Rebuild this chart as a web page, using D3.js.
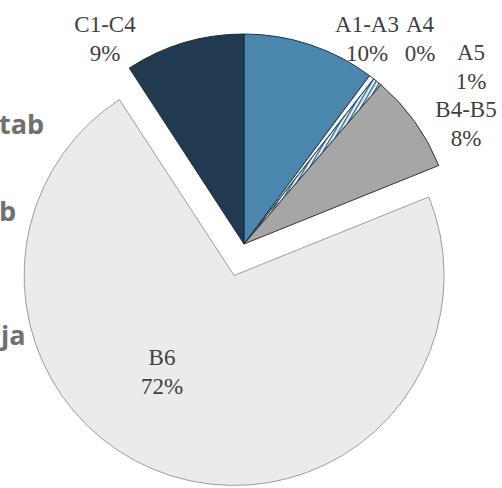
<!DOCTYPE html>
<html>
<head>
<meta charset="utf-8">
<script src="https://cdn.jsdelivr.net/npm/d3@7"></script>
<style>
  body { margin: 0; background: #fff; }
  svg { display: block; }
  .lbl { font-family: "Liberation Serif", "DejaVu Serif", serif; }
  .side { font-family: "Open Sans", "DejaVu Sans", sans-serif; }
</style>
</head>
<body>
<div id="chart"></div>
<script>
//Data
let categories = ["A1-A3", "A4", "A5", "B4-B5", "B6", "C1-C4"];
let shares = [10.2, 0.4, 0.7, 7.6, 71.9, 9.2];
let shareLabels = ["10%", "0%", "1%", "8%", "72%", "9%"];
let colors = ["#4b86ae", "#eef6fb", "url(#hatch)", "#a6a6a6", "#ebebeb", "#213a4f"];
let strokes = ["#1f3344", "#1f3344", "#1f3344", "#2b3640", "#9d9d9d", "#1b2c3a"];
let exploded = ["B6"];

//Where each label sits (centre x, first baseline)
let labelPos = {
	"A1-A3": [367, 32], "A4": [420, 32], "A5": [471, 60],
	"B4-B5": [466, 117], "B6": [162, 365], "C1-C4": [105, 32]
};

//Cut-off text on the left border
let sideWords = [["tab", -1, 134], ["b", -1, 221], ["ja", 1, 345]];

//Dimensions
let width = 502;
let height = 488;
let cx = 244, cy = 244;
let radius = 210;
let explode = 33;
let lineGap = 28.5;

let svg = d3.select("#chart").append("svg")
	.attr("width", width)
	.attr("height", height);

//Hatch pattern for A5
let defs = svg.append("defs");
let pat = defs.append("pattern")
	.attr("id", "hatch")
	.attr("patternUnits", "userSpaceOnUse")
	.attr("width", 3.6)
	.attr("height", 4)
	.attr("patternTransform", "rotate(30)");
pat.append("rect").attr("width", 3.6).attr("height", 4).attr("fill", "#dff1fa");
pat.append("rect").attr("width", 1.3).attr("height", 4).attr("fill", "#2f6384");

let pie = d3.pie().sort(null).value(function(d){ return d.value; });
let arc = d3.arc().innerRadius(0).outerRadius(radius);

let data = categories.map(function(c, i){
	return { name: c, value: shares[i], label: shareLabels[i], fill: colors[i], stroke: strokes[i] };
});

let slices = svg.append("g")
	.attr("transform", "translate(" + cx + "," + cy + ")")
	.selectAll("path")
		.data(pie(data))
	.enter()
		.append("path")
			.attr("d", arc)
			.attr("fill", function(d){ return d.data.fill; })
			.attr("stroke", function(d){ return d.data.stroke; })
			.attr("stroke-width", 1)
			.attr("stroke-linejoin", "round")
			.attr("transform", function(d){
				if(exploded.indexOf(d.data.name) < 0) return null;
				let mid = (d.startAngle + d.endAngle) / 2;
				return "translate(" + (Math.sin(mid) * explode) + "," + (-Math.cos(mid) * explode) + ")";
			});

//Labels
let labels = svg.append("g")
	.attr("class", "lbl")
	.attr("font-size", 23)
	.attr("fill", "#3f3f3f")
	.attr("text-anchor", "middle");

data.forEach(function(d){
	let p = labelPos[d.name];
	let t = labels.append("text").attr("x", p[0]).attr("y", p[1]);
	t.append("tspan").attr("x", p[0]).text(d.name);
	t.append("tspan").attr("x", p[0]).attr("dy", lineGap).text(d.label);
});

//Side words
svg.append("g")
	.attr("class", "side")
	.attr("font-weight", "bold")
	.attr("font-size", 27)
	.attr("fill", "#707070")
	.selectAll("text")
		.data(sideWords)
	.enter()
		.append("text")
			.attr("x", function(d){ return d[1]; })
			.attr("y", function(d){ return d[2]; })
			.text(function(d){ return d[0]; });
</script>
</body>
</html>
